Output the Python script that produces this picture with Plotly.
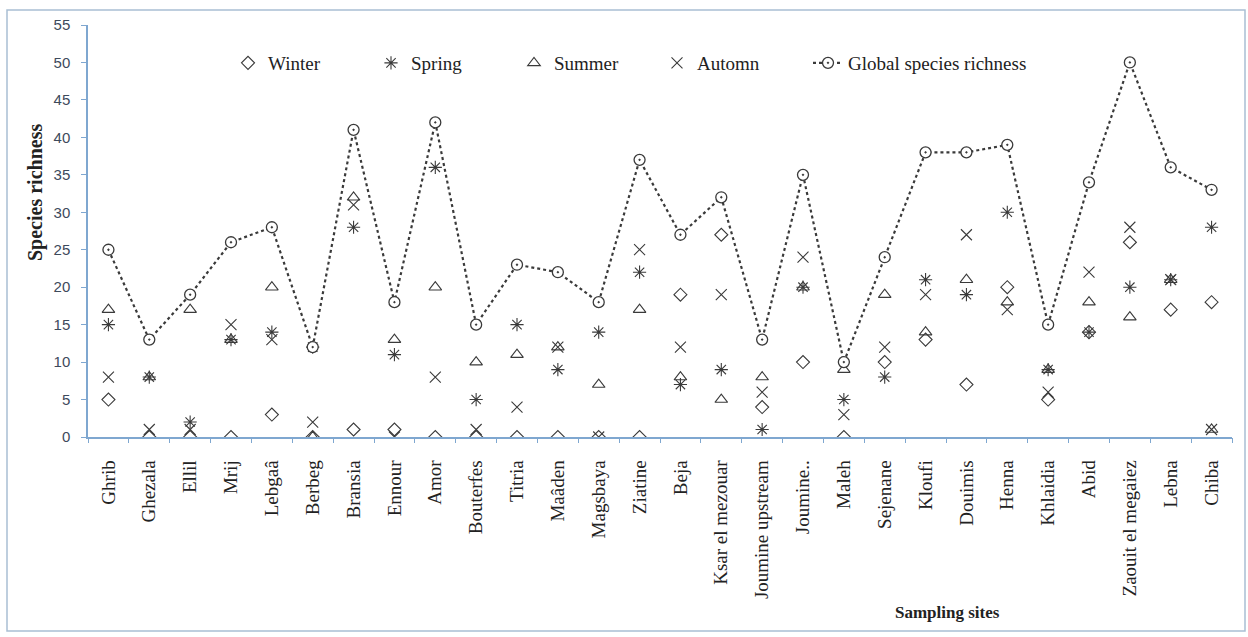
import plotly.graph_objects as go

sites = ["Ghrib", "Ghezala", "Ellil", "Mrij", "Lebgaâ", "Berbeg", "Bransia", "Ennour", "Amor",
         "Bouterfes", "Titria", "Maâden", "Magsbaya", "Ziatine", "Beja", "Ksar el mezouar",
         "Joumine upstream", "Joumine..", "Maleh", "Sejenane", "Kloufi", "Douimis", "Henna",
         "Khlaidia", "Abid", "Zaouit el megaiez", "Lebna", "Chiba"]

winter = [5, 0, 0, 0, 3, 0, 1, 1, 0, 0, 0, 0, 0, 0, 19, 27, 4, 10, 0, 10, 13, 7, 20, 5, 14, 26, 17, 18]
spring = [15, 8, 2, 13, 14, 12, 28, 11, 36, 5, 15, 9, 14, 22, 7, 9, 1, 20, 5, 8, 21, 19, 30, 9, 14, 20, 21, 28]
summer = [17, 8, 17, 13, 20, 0, 32, 13, 20, 10, 11, 12, 7, 17, 8, 5, 8, 20, 9, 19, 14, 21, 18, 9, 18, 16, 21, 1]
autumn = [8, 1, 1, 15, 13, 2, 31, 0, 8, 1, 4, 12, 0, 25, 12, 19, 6, 24, 3, 12, 19, 27, 17, 6, 22, 28, 21, 1]
global_rich = [25, 13, 19, 26, 28, 12, 41, 18, 42, 15, 23, 22, 18, 37, 27, 32, 13, 35, 10, 24, 38, 38, 39, 15, 34, 50, 36, 33]

y_ticks = list(range(0, 56, 5))

mcol = "#3a3a3a"
fig = go.Figure()

def add_season(name, vals, symbol, size=10):
    fig.add_trace(go.Scatter(
        x=sites, y=vals, mode="markers", name=name, legend="legend",
        marker=dict(symbol=symbol, size=size, color=mcol, line=dict(color=mcol, width=1.1)),
    ))

add_season("Winter", winter, "diamond-open", 10)
add_season("Spring", spring, "asterisk-open", 11)
add_season("Summer", summer, "triangle-up-open", 11)
add_season("Automn", autumn, "x-thin-open", 11)

fig.add_trace(go.Scatter(
    x=sites, y=global_rich, mode="lines+markers", name="Global species richness", legend="legend2",
    line=dict(color=mcol, width=2.2, dash="dot"),
    marker=dict(symbol="circle-dot", size=11, color="white", line=dict(color=mcol, width=1.3)),
))

# invisible trace on overlay axes, used only to draw the short tick marks
fig.add_trace(go.Scatter(
    x=sites, y=global_rich, xaxis="x2", yaxis="y2", mode="markers", showlegend=False,
    marker=dict(opacity=0), hoverinfo="skip",
))

axis_col = "#7fa7d0"
leg_font = dict(family="Liberation Serif", size=19, color="#222222")
fig.update_layout(
    width=1248, height=637,
    margin=dict(l=88, r=16, t=25, b=200),
    paper_bgcolor="white", plot_bgcolor="white",
    showlegend=True,
    legend=dict(
        orientation="h", x=(228 - 88) / 1144, xanchor="left",
        y=(437 - 63) / 412, yanchor="middle", font=leg_font,
        bgcolor="rgba(0,0,0,0)", entrywidth=98, entrywidthmode="pixels",
        itemsizing="trace",
    ),
    legend2=dict(
        orientation="h", x=(808 - 88) / 1144, xanchor="left",
        y=(437 - 63) / 412, yanchor="middle", font=leg_font,
        bgcolor="rgba(0,0,0,0)", itemsizing="trace",
    ),
    xaxis=dict(
        type="category", showline=True, linecolor=axis_col, linewidth=1.5,
        ticks="outside", tickcolor="rgba(0,0,0,0)", ticklen=14,
        tickangle=-90, showgrid=False, zeroline=False,
        tickfont=dict(family="Liberation Serif", size=19, color="#222222"),
        range=[-0.5, len(sites) - 0.5],
    ),
    xaxis2=dict(
        type="category", overlaying="x", side="bottom", anchor="y",
        showline=False, ticks="outside", tickson="boundaries", tickcolor=axis_col,
        ticklen=5, tickwidth=1.2, showticklabels=False, showgrid=False, zeroline=False,
        range=[-0.5, len(sites) - 0.5],
    ),
    yaxis=dict(
        range=[0, 55], tickvals=y_ticks, showline=True, linecolor=axis_col, linewidth=1.5,
        ticks="outside", tickcolor="rgba(0,0,0,0)", ticklen=13, showgrid=False, zeroline=False,
        tickfont=dict(family="Liberation Sans", size=15, color="#3d4a5c"),
    ),
    yaxis2=dict(
        range=[0, 55], tickvals=y_ticks, overlaying="y", side="left", anchor="x",
        showline=False, ticks="outside", tickcolor=axis_col, ticklen=6, tickwidth=1.2,
        showticklabels=False, showgrid=False, zeroline=False,
    ),
    annotations=[
        dict(text="<b>Species richness</b>", xref="paper", yref="paper",
             x=(35 - 88) / 1144, y=(437 - 193) / 412, textangle=-90, showarrow=False,
             font=dict(family="Liberation Serif", size=20, color="#222222"),
             xanchor="center", yanchor="middle"),
        dict(text="<b>Sampling sites</b>", xref="paper", yref="paper",
             x=(947 - 88) / 1144, y=(437 - 612) / 412, showarrow=False,
             font=dict(family="Liberation Serif", size=17, color="#222222"),
             xanchor="center", yanchor="middle"),
    ],
    shapes=[
        dict(type="rect", xref="paper", yref="paper",
             x0=(7 - 88) / 1144, x1=(1245 - 88) / 1144,
             y0=(437 - 631) / 412, y1=(437 - 10) / 412,
             line=dict(color="#a9bfd3", width=1.5), fillcolor="rgba(0,0,0,0)", layer="below"),
    ],
)

fig.write_html("out.html")
